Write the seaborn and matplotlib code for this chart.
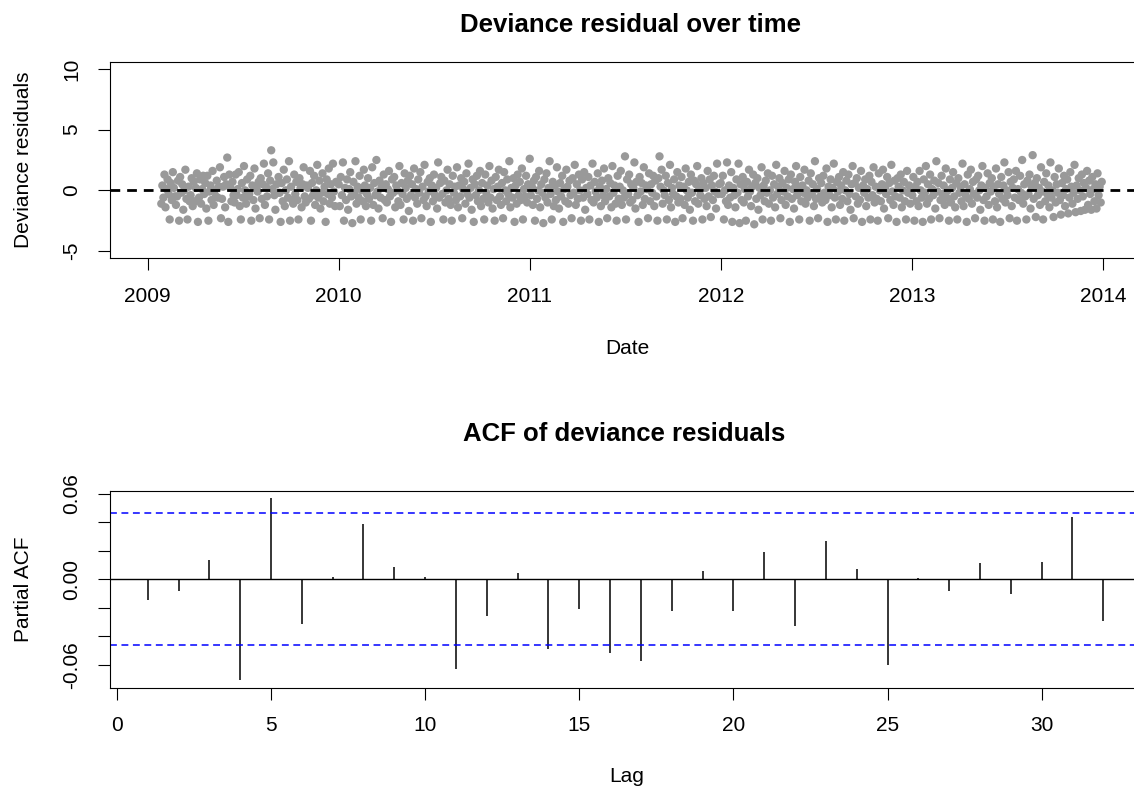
import numpy as np
import pandas as pd
import seaborn as sns
import matplotlib
matplotlib.use("Agg")
import matplotlib.pyplot as plt

# deviance residuals, one value every second day
res_2009 = [
    -1.1, 0.4, -0.6, 1.3, -1.4, 0.1, 0.9, -0.3, -2.4, 0.6, -0.8, 1.5, 0.2, -0.5,
    -1.2, -0.5, 0.8, -2.5, 1.1, -0.2, 0.5, -1.6, 0.0, 1.7, -0.7, -2.4, 0.3, -0.9,
    -0.4, 1.0, -1.3, 0.7, -0.9, 0.2, 1.4, -2.6, -0.6, 0.9, -1.1, 0.1, 1.2, -0.3,
    0.6, -1.5, 1.2, -2.5, -0.1, 0.4, -0.8, 1.6, -1.2, 0.0, -0.5, 0.8, -0.6, 0.3,
    1.9, -2.3, -0.7, 0.3, 1.1, -1.4, 0.5, 2.7, -2.6, 1.3, 0.2, -0.9, 0.7, -0.4,
    -1.0, 1.3, -0.4, 0.1, 1.5, -1.3, -2.4, 0.6, -0.6, 2.0, 0.0, -1.1, 0.9, -0.5,
    -0.3, 1.2, -2.5, 0.4, -0.8, 1.8, -1.5, 0.2, -0.1, 0.7, -2.3, 1.0, -0.7, 0.5,
    2.2, -1.2, 0.3, -0.5, 1.4, -2.4, 0.8, 3.3, 0.1, 2.3, -0.4, -1.6, 0.5, -0.2,
    1.1, -0.2, -2.6, 0.6, -0.9, 1.7, -1.3, 0.0, 0.9, -0.6, 2.4, -2.5, 0.3, -0.8,
    -1.1, 1.3, -0.3, 0.7, -0.8, -2.4, 1.0, 0.2, -1.4, 0.5, 1.9, -0.5, -1.0, 0.4,
    0.2, -0.7, 1.6, -2.5, 0.6, -0.4, 1.2, -1.2, 0.0, 2.1, -0.6, 0.8, -1.5, -0.2,
    1.4, -0.9, 0.3, -2.6, 0.9, -0.3, 1.8, -1.1, 0.5, -0.6, 2.2, -0.1, -1.3, 0.7,
]
res_2010 = [
    0.5, -1.3, 1.1, -0.4, 2.3, -2.5, 0.2, -0.8, 0.9, -1.6, 0.1, 1.5, -0.5, -2.7,
    0.7, -0.2, 2.4, -1.1, 0.3, -0.6, 1.2, -2.4, 0.0, -0.9, 1.7, 0.4, -1.3, -0.3,
    1.0, -0.7, 0.2, -2.5, 1.9, -1.2, 0.6, -0.4, 2.5, -0.1, -1.5, 0.8, -0.6, 0.3,
    -2.3, 1.3, -0.8, 0.5, -1.0, 0.1, 1.6, -0.5, -2.6, 0.9, -0.2, 1.1, -1.4, 0.4,
    0.0, -0.9, 2.0, -1.2, 0.6, -0.3, -2.4, 1.4, 0.2, -0.7, 0.8, -1.7, 1.2, -0.4,
    0.5, -2.5, 1.8, -0.6, 0.1, -1.1, 0.9, -0.2, 1.5, -2.3, 0.3, -0.8, 2.1, -0.5,
    -1.3, 0.7, -0.1, 1.0, -2.6, 0.4, -0.9, 1.3, -0.4, 0.2, -1.5, 2.3, -0.6, 0.6,
    1.1, -0.3, -2.4, 0.8, -1.0, 0.0, 1.7, -0.7, 0.5, -1.2, -2.5, 1.2, -0.2, 0.3,
    -0.8, 1.9, -1.4, 0.4, -0.5, 1.0, -2.3, 0.1, 0.7, -1.1, 1.4, -0.3, 2.2, -0.6,
    0.2, -1.6, 0.9, -2.6, 0.5, -0.4, 1.2, -0.9, 0.0, 1.6, -1.3, 0.6, -0.7, -2.4,
    1.3, -0.2, 0.4, -1.0, 2.0, -0.6, 0.8, -1.5, 0.1, -2.5, 1.1, -0.8, 0.3, 1.7,
    -0.5, -1.2, 0.6, -2.3, 1.5, 0.0, -0.9, 0.9, -0.3, 2.4, -1.4, 0.2, -0.6, 1.0,
    -2.6, 0.4, -1.1, 1.3, -0.4, 0.7, -0.8, 1.8, -2.4, 0.1, -0.5, 1.2, -1.0, 0.5,
]
res_2011 = [
    2.6, -0.4, 0.3, -1.2, 0.8, -2.5, 1.1, -0.7, 0.0, 1.6, -1.4, 0.5, -0.2, -2.7,
    0.9, -0.6, 1.4, -1.0, 0.2, 2.4, -0.3, -2.4, 0.7, -1.3, 0.4, -0.8, 1.9, -0.1,
    -1.5, 0.6, -0.5, 1.2, -2.6, 0.1, -0.9, 1.7, 0.3, -1.1, 0.8, -0.4, -2.3, 1.0,
    -0.2, 2.1, -1.2, 0.5, -0.7, 1.3, 0.0, -2.5, 0.9, -0.6, 1.5, -1.6, 0.2, -0.3,
    1.1, -2.4, 0.4, -0.8, 2.2, -1.0, 0.7, -0.1, -0.6, 1.4, -2.6, 0.3, -1.3, 0.8,
    -0.4, 1.8, -0.9, 0.1, -2.3, 1.0, -0.5, 0.6, -1.4, 2.0, -0.2, 0.4, -1.1, -2.5,
    1.2, -0.7, 0.3, 1.6, -1.2, 0.0, -0.6, 2.8, -2.4, 0.9, -0.3, 1.3, -1.0, 0.5,
    -0.8, 0.2, 2.3, -1.5, 0.7, -0.4, -2.6, 1.1, -0.1, 0.6, -1.2, 1.9, -0.7, 0.4,
    0.1, -2.3, 1.4, -0.9, 0.5, -0.2, 1.2, -1.3, 0.8, -0.5, -2.5, 1.0, 2.8, 0.3,
    1.7, -1.1, 0.0, -0.4, 1.2, -2.4, 0.6, -0.8, 2.1, -1.4, 0.2, -0.3, 0.9, -2.6,
    -0.5, 1.5, -1.0, 0.4, -0.7, 1.1, -2.3, 0.3, -1.2, 1.8, 0.0, -0.6, 0.7, -1.6,
    1.3, -0.2, -2.5, 0.8, -0.9, 0.5, 2.0, -1.1, 0.1, -0.4, 1.0, -2.4, 0.6, -0.7,
    0.2, -1.3, 1.6, -0.5, 0.9, -2.2, 0.4, -0.8, 1.2, -0.1, -1.5, 2.2, -0.3, 0.5,
]
res_2012 = [
    0.6, -0.3, 1.2, -2.4, 0.0, -0.9, 2.3, -1.2, 0.4, -0.6, 1.5, -2.6, 0.2, -0.4,
    -1.4, 0.9, -0.2, 2.2, -2.7, 0.5, -0.8, 1.1, -1.0, 0.1, -2.5, 0.7, -0.5, 1.7,
    -0.1, -1.3, 0.3, 1.3, -2.8, 0.6, -0.7, 1.0, -1.6, 0.2, -0.4, 1.9, -2.4, 0.4,
    -0.9, 0.8, -0.2, 1.4, -1.1, 0.0, -2.5, 1.2, -0.6, 0.5, -1.4, 2.1, -0.3, 0.3,
    1.0, -2.3, -0.8, 0.6, -0.1, 1.6, -1.2, 0.2, -0.5, 0.9, -2.6, 1.3, -0.7, 0.1,
    -1.5, 0.7, 2.0, -0.4, 0.3, -2.4, 1.1, -0.9, 0.4, -0.2, 1.7, -1.1, 0.0, -0.6,
    0.8, -2.5, 1.4, -0.3, 0.5, -1.3, 2.4, -0.7, 0.1, -2.3, 1.0, -0.5, 0.6, -1.0,
    1.2, -0.2, -0.8, 1.8, -2.6, 0.3, -0.4, 0.9, -1.4, 0.2, 2.2, -0.6, -2.4, 0.7,
    -0.1, 1.1, -1.2, 0.4, -0.7, 1.5, -2.5, 0.0, 0.8, -0.9, 1.3, -0.3, -1.6, 0.5,
    2.0, -2.3, 0.6, -0.5, 1.0, -1.1, 0.2, -0.8, 1.6, -2.6, 0.4, -0.2, 0.9, -1.3,
    0.1, -0.6, 1.2, -2.4, 0.7, -0.4, 1.9, -1.0, 0.3, -0.7, -2.5, 1.4, 0.0, -0.9,
    0.5, 1.7, -1.5, 0.2, -0.3, 1.1, -2.3, 0.6, -0.8, 2.1, -0.1, -1.2, 0.8, -0.5,
    -2.6, 1.0, 0.3, -0.6, 1.3, -1.4, 0.0, 0.7, -0.9, -2.4, 1.6, -0.2, 0.4, -1.1,
]
res_2013 = [
    -0.4, 1.1, -2.5, 0.3, -0.9, 0.7, -1.3, 1.6, 0.0, -0.6, -2.6, 0.9, -0.2, 2.0,
    -1.1, 0.5, -0.7, 1.3, -2.4, 0.1, -0.4, 0.8, -1.5, 2.4, -0.1, 0.6, -2.3, -0.8,
    1.2, -0.3, 0.4, -1.2, 1.8, -0.6, 0.0, -2.5, 0.9, -1.0, 0.2, 1.5, -0.5, -1.4,
    0.6, -2.4, 1.0, -0.2, 0.3, -0.9, 2.2, -1.3, 0.5, -0.4, -2.6, 1.3, -0.7, 0.1,
    1.7, -1.1, 0.7, -0.3, -2.3, 0.9, -0.6, 1.2, 0.0, -1.6, 0.4, 2.0, -0.8, -2.5,
    0.2, -0.5, 1.4, -1.2, 0.6, -0.1, 1.0, -2.4, 0.3, -0.9, 1.8, -1.4, 0.5, -0.3,
    -2.6, 1.1, -0.7, 0.4, 2.3, -1.0, 0.0, -0.4, 1.5, -2.3, 0.7, -1.3, 0.2, 0.9,
    -0.6, 1.6, -2.5, 0.1, -0.8, 1.2, -0.2, 2.5, -1.1, 0.5, -0.5, -2.4, 0.8, -0.3,
    1.3, -1.5, 0.3, 2.9, -0.7, 0.6, -2.2, 1.0, -0.4, 0.2, -1.2, 1.9, -0.1, -2.4,
    0.7, -0.9, 1.4, -0.3, 0.4, -1.4, 2.3, -0.6, 0.0, -2.2, 1.1, -1.0, 0.5, -0.2,
    1.8, -0.8, -2.0, 0.6, -0.4, 1.2, -1.3, 0.1, 0.9, -1.9, -0.6, 1.5, 0.3, -1.1,
    -0.2, 2.1, -1.8, 0.4, -0.7, 1.0, 0.0, -1.7, 1.3, -0.5, 0.6, -1.6, 0.2, 1.6,
    -1.2, 0.8, -0.3, -1.6, 1.1, 0.1, -0.9, 0.5, -1.5, 1.4, -0.4, 0.3, -1.0, 0.7,
]
year_starts = ["2009-01-27", "2010-01-01", "2011-01-01", "2012-01-01", "2013-01-01"]
year_ticks = ["2009", "2010", "2011", "2012", "2013", "2014"]

# partial autocorrelation of the residuals, lags 1..32
lags = list(range(1, 33))
pacf_vals = [
    -0.0145, -0.0080, 0.0136, -0.0711, 0.0568, -0.0313, 0.0012, 0.0384,
    0.0084, 0.0012, -0.0629, -0.0257, 0.0040, -0.0489, -0.0211, -0.0519,
    -0.0573, -0.0220, 0.0058, -0.0220, 0.0189, -0.0332, 0.0271, 0.0068,
    -0.0601, 0.0009, -0.0080, 0.0115, -0.0101, 0.0124, 0.0437, -0.0295,
]
conf_limit = 0.0465

frames = []
for start, vals in zip(year_starts, [res_2009, res_2010, res_2011, res_2012, res_2013]):
    frames.append(pd.DataFrame({"date": pd.date_range(start, periods=len(vals), freq="2D"),
                                "resid": vals}))
df = pd.concat(frames, ignore_index=True)

sns.set_style("ticks")
plt.rcParams["font.family"] = ["Liberation Sans", "DejaVu Sans"]
plt.rcParams["axes.unicode_minus"] = False
plt.rcParams["axes.linewidth"] = 0.8
plt.rcParams["axes.edgecolor"] = "black"
plt.rcParams["text.color"] = "black"

W, H = 1134, 790
fig = plt.figure(figsize=(W / 100, H / 100), dpi=100)
ax1 = fig.add_axes([109.5 / W, 1 - 258.3 / H, 1032 / W, 196.6 / H])
ax2 = fig.add_axes([109.5 / W, 1 - 687.7 / H, 1032 / W, 196.7 / H])

# top panel: residuals over time
sns.scatterplot(data=df, x="date", y="resid", ax=ax1, color="#999999",
                s=36, edgecolor="none", linewidth=0, legend=False)
ax1.axhline(0, color="black", lw=2, ls=(0, (3.5, 2.5)))
ax1.set_xlim(pd.Timestamp("2008-10-20"), pd.Timestamp("2014-03-15"))
ax1.set_ylim(-5.6, 10.6)
ax1.set_xticks([pd.Timestamp(y + "-01-01") for y in year_ticks])
ax1.set_xticklabels(year_ticks)
ax1.set_yticks([-5, 0, 5, 10])
ax1.set_yticklabels(["-5", "0", "5", "10"], rotation=90, va="center")
ax1.set_xlabel("")
ax1.set_ylabel("")

# bottom panel: PACF
ax2.vlines(lags, 0, pacf_vals, color="black", lw=1.1)
ax2.axhline(0, color="black", lw=1)
for c in (conf_limit, -conf_limit):
    ax2.axhline(c, color="#0000FF", lw=1.1, ls=(0, (4.5, 3)))
ax2.set_xlim(-0.24, 33.24)
ax2.set_ylim(-0.0762, 0.0619)
ax2.set_xticks([0, 5, 10, 15, 20, 25, 30])
ax2.set_yticks([-0.06, -0.04, -0.02, 0.0, 0.02, 0.04, 0.06])
ax2.set_yticklabels(["-0.06", "", "", "0.00", "", "", "0.06"], rotation=90, va="center")

for ax in (ax1, ax2):
    ax.tick_params(direction="out", length=8.6, width=0.8, labelsize=15, pad=12,
                   color="black", labelcolor="black")
    for sp in ax.spines.values():
        sp.set_visible(True)
        sp.set_color("black")

fig.text(630 / W, 1 - 31.7 / H, "Deviance residual over time", ha="center",
         va="baseline", fontsize=18.5, fontweight="bold", color="black")
fig.text(624 / W, 1 - 440.7 / H, "ACF of deviance residuals", ha="center",
         va="baseline", fontsize=18.5, fontweight="bold", color="black")
fig.text(627 / W, 1 - 348 / H, "Date", ha="center", va="center", fontsize=15)
fig.text(627 / W, 1 - 776 / H, "Lag", ha="center", va="center", fontsize=15)
fig.text(24 / W, 1 - 160 / H, "Deviance residuals", ha="center", va="center",
         rotation=90, fontsize=15)
fig.text(24 / W, 1 - 589 / H, "Partial ACF", ha="center", va="center",
         rotation=90, fontsize=15)

fig.savefig("out.png", dpi=100)
